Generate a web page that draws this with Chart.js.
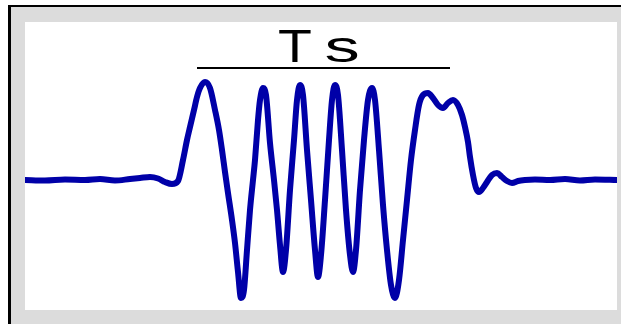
<!DOCTYPE html>
<html>
<head>
<meta charset="utf-8">
<style>
  html, body { margin: 0; padding: 0; background: #ffffff; }
  canvas { display: block; }
</style>
<script src="https://cdn.jsdelivr.net/npm/chart.js@4/dist/chart.umd.min.js"></script>
</head>
<body>
<canvas id="pulse" width="621" height="324"></canvas>
<script>
// Time axis (ns) and normalised amplitude of the received chirp pulse
const timeNs = [
  0, 10, 20, 30, 37.5, 45, 52.5, 57.5, 62.5, 66.5, 70, 73.5, 76.5,
  79, 81, 82.5, 84.5, 86, 87.5, 90, 92.5, 95, 97, 98.5, 100, 101.5,
  103.5, 105, 106.5, 108, 109.5, 111, 112.5, 114, 115, 116.5, 117.5,
  119, 120.5, 122.5, 124.5, 126, 127.5, 129, 130.5, 132.5, 134.5, 136,
  137.5, 139, 141, 143, 145, 146.5, 148, 150, 152, 153.5, 155, 156.5,
  158.5, 160.5, 162.5, 164, 165.5, 167.5, 169.5, 171.5, 173.5, 175,
  177, 179, 181, 183, 185, 187, 189, 191, 193, 195, 197, 199, 201.5,
  204, 206.5, 209, 211.5, 214, 216.5, 218.5, 220, 221.5, 222.5, 224,
  225.5, 227, 229, 231, 233.5, 236, 238.5, 241, 243.5, 246.5, 250,
  255, 262.5, 270, 277.5, 285, 296
];
const amplitude = [
  0, -0.005, 0.005, 0, 0.01, -0.005, 0.01, 0.02, 0.03, 0.015, -0.02, -0.04, -0.01,
  0.2, 0.4, 0.53, 0.7, 0.83, 0.92, 0.98, 0.92, 0.7, 0.5, 0.3, 0.08, -0.13,
  -0.4, -0.63, -0.92, -1.18, -1.1, -0.7, -0.3, 0, 0.2, 0.6, 0.8,
  0.92, 0.85, 0.37, 0, -0.3, -0.65, -0.92, -0.7, -0.1, 0.4, 0.8,
  0.95, 0.85, 0.3, -0.2, -0.7, -0.97, -0.75, -0.2, 0.4, 0.8, 0.95, 0.85,
  0.3, -0.3, -0.75, -0.92, -0.7, -0.1, 0.4, 0.8, 0.92, 0.8,
  0.3, -0.25, -0.7, -1.05, -1.18, -1.0, -0.6, -0.2, 0.2, 0.5, 0.75, 0.85, 0.87,
  0.82, 0.75, 0.72, 0.77, 0.8, 0.75, 0.65, 0.53, 0.38, 0.23, 0.05,
  -0.08, -0.12, -0.08, -0.02, 0.05, 0.07, 0.03, -0.01, -0.03, -0.01, 0,
  0.005, 0, 0.01, -0.005, 0.005, 0
];

// Pulse-duration marker Ts
const tsStart = 86;
const tsEnd = 212.5;
const tsLevel = 1.12;
const tsLabel = 'Ts';
const tsLabelTime = 147;
const tsLabelLevel = 1.18;

const pulsePoints = timeNs.map((t, i) => ({ x: t, y: amplitude[i] }));
const tsPoints = [{ x: tsStart, y: tsLevel }, { x: tsEnd, y: tsLevel }];

const framePlugin = {
  id: 'frame',
  beforeDraw(chart) {
    const { ctx, width, height, chartArea: a } = chart;
    ctx.save();
    ctx.fillStyle = '#ffffff';
    ctx.fillRect(0, 0, width, height);
    ctx.fillStyle = '#dcdcdc';
    ctx.fillRect(10, 7, width - 10, height - 7);
    ctx.fillStyle = '#000000';
    ctx.fillRect(8, 5, width - 8, 2);
    ctx.fillRect(8, 5, 3, height - 5);
    ctx.fillStyle = '#ffffff';
    ctx.fillRect(a.left, a.top, a.right - a.left, a.bottom - a.top);
    ctx.restore();
  },
  afterDatasetsDraw(chart) {
    const { ctx, scales } = chart;
    const cx = scales.x.getPixelForValue(tsLabelTime);
    const by = scales.y.getPixelForValue(tsLabelLevel);
    ctx.save();
    ctx.fillStyle = '#000000';
    ctx.font = '47px "Liberation Sans", Arial, sans-serif';
    ctx.textAlign = 'center';
    ctx.textBaseline = 'alphabetic';
    // first letter
    ctx.save();
    ctx.translate(cx - 24, by);
    ctx.scale(1.18, 1);
    ctx.fillText(tsLabel[0], 0, 0);
    ctx.restore();
    // second letter
    ctx.save();
    ctx.translate(cx + 23, by);
    ctx.scale(1.5, 0.94);
    ctx.fillText(tsLabel[1], 0, 0);
    ctx.restore();
    ctx.restore();
  }
};

new Chart(document.getElementById('pulse'), {
  type: 'line',
  data: {
    datasets: [
      {
        data: tsPoints,
        borderColor: '#000000',
        borderWidth: 2,
        pointRadius: 0,
        tension: 0
      },
      {
        data: pulsePoints,
        borderColor: '#0000a8',
        borderWidth: 6,
        pointRadius: 0,
        cubicInterpolationMode: 'monotone',
        borderJoinStyle: 'round',
        borderCapStyle: 'round'
      },
      {
        data: pulsePoints,
        borderColor: '#1414ff',
        borderWidth: 4,
        pointRadius: 0,
        cubicInterpolationMode: 'monotone',
        borderJoinStyle: 'round',
        borderCapStyle: 'round'
      }
    ]
  },
  options: {
    responsive: false,
    animation: false,
    devicePixelRatio: 1,
    layout: { padding: { left: 25, top: 22, right: 4, bottom: 14 } },
    scales: {
      x: { type: 'linear', min: 0, max: 296, display: false },
      y: { type: 'linear', min: -1.30, max: 1.58, display: false }
    },
    plugins: {
      legend: { display: false },
      tooltip: { enabled: false },
      title: { display: false }
    }
  },
  plugins: [framePlugin]
});
</script>
</body>
</html>
